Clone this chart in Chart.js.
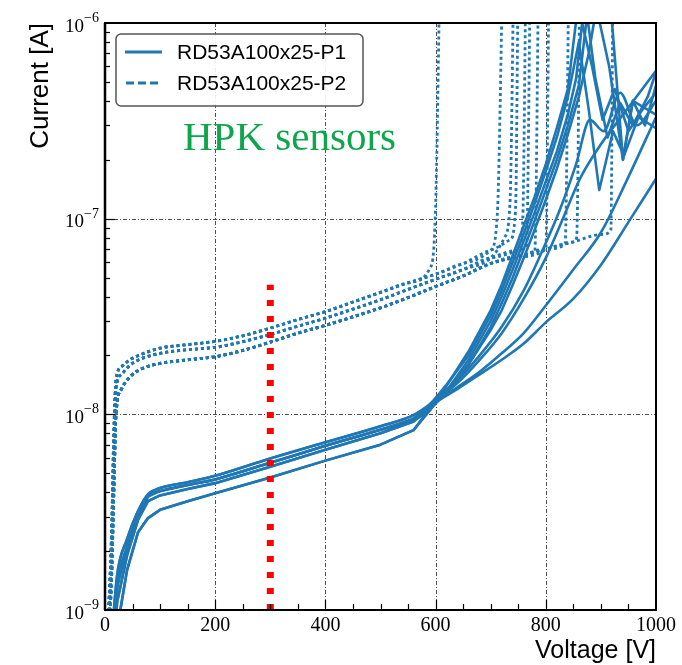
<!DOCTYPE html>
<html>
<head>
<meta charset="utf-8">
<script src="https://cdn.jsdelivr.net/npm/chart.js@4.4.0/dist/chart.umd.min.js"></script>
<style>
  html, body { margin: 0; padding: 0; background: #fff; }
  #wrap { width: 682px; height: 665px; }
</style>
</head>
<body>
<div id="wrap"><canvas id="ivChart" width="682" height="665"></canvas></div>
<script>
// IV curves, RD53A 100x25 sensors (HPK)

const xTicks = [0, 200, 400, 600, 800, 1000];
const yTicks = [1e-9, 1e-8, 1e-7, 1e-6];
const yTickExp = ['\u22129', '\u22128', '\u22127', '\u22126'];
const legendLabels = ['RD53A100x25-P1', 'RD53A100x25-P2'];

// P1 (solid) - shared low voltage part, four bands
const p1Volts = [10, 22, 40, 60, 78, 100, 150, 200, 300, 400, 500, 560];
const p1BandA = [6e-10, 1.5e-9, 2.3e-9, 3.2e-9, 3.9e-9, 4.2e-9, 4.5e-9, 4.85e-9, 5.95e-9, 7.2e-9, 8.7e-9, 9.9e-9];
const p1BandB = [5e-10, 1.3e-9, 2.1e-9, 3.05e-9, 3.8e-9, 4.05e-9, 4.35e-9, 4.65e-9, 5.65e-9, 6.9e-9, 8.35e-9, 9.5e-9];
const p1BandC = [4e-10, 1.1e-9, 1.9e-9, 2.9e-9, 3.6e-9, 3.85e-9, 4.15e-9, 4.45e-9, 5.4e-9, 6.6e-9, 8.0e-9, 9.2e-9];
const p1BandD = [3e-10, 8e-10, 1.6e-9, 2.5e-9, 2.95e-9, 3.25e-9, 3.6e-9, 3.95e-9, 4.75e-9, 5.8e-9, 7.0e-9, 8.3e-9];

// which band each P1 sensor follows, its high voltage tail [V, A], and whether it is a smooth curve
const p1CurveBands = ['D', 'C', 'B', 'C', 'D', 'A', 'B', 'A', 'B'];
const p1CurveSmooth = [false, false, false, false, false, true, true, true, true];
const p1Tails = [
  [[590, 1.08e-8], [620, 1.32e-8], [660, 1.9e-8], [700, 3.0e-8], [720, 4.0e-8], [740, 5.5e-8], [760, 7.7e-8], [780, 1.08e-7], [800, 1.55e-7], [820, 2.2e-7], [840, 3.4e-7], [855, 5.2e-7], [866, 1e-6], [884, 6e-7], [903, 3.2e-7], [925, 4.6e-7], [950, 2.8e-7], [975, 3.6e-7], [1000, 4.4e-7]],
  [[590, 1.12e-8], [620, 1.42e-8], [660, 2.0e-8], [700, 3.2e-8], [720, 4.3e-8], [740, 6.0e-8], [760, 8.4e-8], [780, 1.2e-7], [800, 1.75e-7], [820, 2.6e-7], [840, 4.2e-7], [860, 8e-7], [878, 3.6e-7], [897, 1.4e-7], [922, 2.8e-7], [942, 2.1e-7], [968, 3.3e-7], [1000, 2.9e-7]],
  [[590, 1.1e-8], [620, 1.3e-8], [660, 1.8e-8], [700, 2.8e-8], [720, 3.7e-8], [740, 5.0e-8], [760, 7.0e-8], [780, 9.8e-8], [800, 1.4e-7], [820, 2.0e-7], [840, 3.0e-7], [860, 4.8e-7], [875, 1.1e-6], [890, 5.2e-7], [912, 2.6e-7], [935, 3.9e-7], [958, 3.0e-7], [985, 4.2e-7], [1000, 5.6e-7]],
  [[590, 1.06e-8], [620, 1.3e-8], [660, 1.8e-8], [700, 2.7e-8], [720, 3.4e-8], [740, 4.6e-8], [760, 6.3e-8], [780, 8.8e-8], [800, 1.25e-7], [820, 1.8e-7], [840, 2.7e-7], [860, 4.2e-7], [878, 7e-7], [892, 1.2e-6], [915, 6e-7], [940, 2.0e-7], [958, 4.0e-7], [1000, 3.4e-7]],
  [[590, 1.05e-8], [620, 1.4e-8], [660, 2.1e-8], [700, 3.4e-8], [720, 4.6e-8], [740, 6.5e-8], [760, 9.2e-8], [780, 1.3e-7], [800, 1.9e-7], [820, 2.9e-7], [840, 4.6e-7], [858, 1.2e-6], [918, 1.2e-6], [940, 2.0e-7], [958, 4.0e-7], [980, 3.0e-7], [1000, 4.8e-7]],
  [[600, 1.18e-8], [640, 1.45e-8], [680, 1.9e-8], [720, 2.6e-8], [760, 3.9e-8], [800, 6.3e-8], [831, 1e-7], [862, 1.6e-7], [900, 2.4e-7], [950, 3.7e-7], [1000, 5.7e-7]],
  [[600, 1.2e-8], [640, 1.5e-8], [680, 2.0e-8], [720, 2.8e-8], [760, 4.3e-8], [790, 6.5e-8], [825, 1.1e-7], [855, 1.9e-7], [880, 3.2e-7], [905, 2.8e-7], [935, 4.4e-7], [965, 3.0e-7], [1000, 4.0e-7]],
  [[600, 1.17e-8], [640, 1.38e-8], [680, 1.65e-8], [720, 2.05e-8], [760, 2.6e-8], [800, 3.6e-8], [850, 5.5e-8], [900, 8.5e-8], [947, 1.57e-7], [1000, 3.3e-7]],
  [[600, 1.15e-8], [640, 1.35e-8], [680, 1.6e-8], [720, 1.9e-8], [760, 2.3e-8], [800, 2.95e-8], [850, 3.9e-8], [900, 5.8e-8], [950, 9.6e-8], [1000, 1.6e-7]]
];

// P2 (dotted) - plateau bands before breakdown
const p2Volts = [5, 12, 16, 20, 30, 45, 65, 100, 150, 200, 250, 300, 350, 400, 450, 500, 550, 600, 650, 700, 750, 800, 850, 900];
const p2BandTop = [8e-10, 2.5e-9, 8e-9, 1.5e-8, 1.75e-8, 1.9e-8, 2.02e-8, 2.18e-8, 2.27e-8, 2.36e-8, 2.52e-8, 2.76e-8, 3.05e-8, 3.35e-8, 3.75e-8, 4.2e-8, 4.7e-8, 5.2e-8, 5.9e-8, 6.9e-8, 7.6e-8, 8.2e-8, 8.8e-8, 9.4e-8];
const p2BandMid = [7e-10, 2e-9, 6.5e-9, 1.35e-8, 1.6e-8, 1.78e-8, 1.92e-8, 2.05e-8, 2.14e-8, 2.2e-8, 2.35e-8, 2.56e-8, 2.82e-8, 3.1e-8, 3.45e-8, 3.85e-8, 4.35e-8, 4.9e-8, 5.5e-8, 6.3e-8, 6.9e-8, 7.5e-8, 8.1e-8, 8.7e-8];
const p2BandBot = [6e-10, 1.5e-9, 4e-9, 1.0e-8, 1.35e-8, 1.55e-8, 1.7e-8, 1.82e-8, 1.9e-8, 1.97e-8, 2.12e-8, 2.34e-8, 2.6e-8, 2.85e-8, 3.15e-8, 3.5e-8, 3.95e-8, 4.5e-8, 5.1e-8, 5.9e-8, 6.4e-8, 7.0e-8, 7.6e-8, 8.3e-8];

const p2CurveBands = ['top', 'top', 'mid', 'top', 'mid', 'mid', 'bot', 'bot', 'bot', 'bot', 'bot'];
const p2Tails = [
  [[590, 5.6e-8], [600, 1.15e-7], [608, 2e-6]],
  [[700, 6.9e-8], [712, 1.05e-7], [722, 2e-6]],
  [[700, 6.3e-8], [725, 8e-8], [735, 1.2e-7], [742, 2e-6]],
  [[700, 6.9e-8], [735, 7.8e-8], [745, 1.1e-7], [750, 2e-6]],
  [[750, 6.9e-8], [758, 9.5e-8], [764, 2e-6]],
  [[750, 6.9e-8], [765, 7.3e-8], [772, 2e-6]],
  [[750, 6.4e-8], [780, 6.8e-8], [787, 2e-6]],
  [[800, 7.0e-8], [806, 2e-6]],
  [[800, 7.0e-8], [835, 7.4e-8], [842, 2e-6]],
  [[850, 7.6e-8], [856, 8.0e-8], [862, 2e-6]],
  [[900, 8.3e-8], [918, 8.7e-8], [922, 2e-6]]
];

// red marker at 300 V
const markerVolts = [300, 300];
const markerCurrent = [1e-9, 4.6e-8];

const BLUE = '#1f77b4';

function buildCurve(volts, band, tail) {
  const pts = [];
  volts.forEach((v, i) => {
    if (v < tail[0][0]) pts.push({ x: v, y: band[i] });
  });
  tail.forEach(([v, c]) => pts.push({ x: v, y: c }));
  return pts;
}

const p1BandMap = { A: p1BandA, B: p1BandB, C: p1BandC, D: p1BandD };
const p2BandMap = { top: p2BandTop, mid: p2BandMid, bot: p2BandBot };

const datasets = [];
datasets.push({
  label: 'marker',
  data: markerVolts.map((v, i) => ({ x: v, y: markerCurrent[i] })),
  borderColor: '#ff0000',
  borderWidth: 7,
  borderDash: [6, 10],
  borderCapStyle: 'butt',
  pointRadius: 0,
  order: 0
});
p2Tails.forEach((tail, i) => {
  datasets.push({
    label: legendLabels[1],
    data: buildCurve(p2Volts, p2BandMap[p2CurveBands[i]], tail),
    borderColor: BLUE,
    borderWidth: 2.8,
    borderDash: [3, 3],
    borderCapStyle: 'butt',
    pointRadius: 0,
    cubicInterpolationMode: 'monotone',
    order: 2
  });
});
p1Tails.forEach((tail, i) => {
  const ds = {
    label: legendLabels[0],
    data: buildCurve(p1Volts, p1BandMap[p1CurveBands[i]], tail),
    borderColor: BLUE,
    borderWidth: 2.6,
    borderJoinStyle: 'round',
    pointRadius: 0,
    tension: 0,
    order: 1
  };
  if (p1CurveSmooth[i]) ds.cubicInterpolationMode = 'monotone';
  datasets.push(ds);
});

// axes, grid, labels and legend drawn by hand (matplotlib look)
const frame = {
  id: 'frame',
  beforeDatasetsDraw(chart) {
    const { ctx, chartArea: a, scales: { x, y } } = chart;
    ctx.save();
    ctx.strokeStyle = '#222';
    ctx.lineWidth = 0.8;
    ctx.setLineDash([4, 2, 1, 2]);
    xTicks.slice(1, -1).forEach(v => {
      const px = Math.round(x.getPixelForValue(v)) + 0.5;
      ctx.beginPath(); ctx.moveTo(px, a.top); ctx.lineTo(px, a.bottom); ctx.stroke();
    });
    yTicks.slice(1, -1).forEach(v => {
      const py = Math.round(y.getPixelForValue(v)) + 0.5;
      ctx.beginPath(); ctx.moveTo(a.left, py); ctx.lineTo(a.right, py); ctx.stroke();
    });
    ctx.restore();
  },
  afterDatasetsDraw(chart) {
    const { ctx, chartArea: a, scales: { x, y } } = chart;
    ctx.save();
    ctx.setLineDash([]);
    ctx.strokeStyle = '#000';

    // ticks (inward)
    ctx.lineWidth = 1.2;
    for (let v = 50; v < 1000; v += 50) {
      const px = Math.round(x.getPixelForValue(v)) + 0.5;
      const len = v % 200 === 0 ? 10 : 6;
      ctx.beginPath(); ctx.moveTo(px, a.bottom); ctx.lineTo(px, a.bottom - len); ctx.stroke();
    }
    for (let d = -9; d <= -7; d++) {
      for (let m = 1; m <= 9; m++) {
        if (m === 1 && d === -9) continue;
        const py = Math.round(y.getPixelForValue(m * Math.pow(10, d))) + 0.5;
        const len = m === 1 ? 10 : 5;
        ctx.beginPath(); ctx.moveTo(a.left, py); ctx.lineTo(a.left + len, py); ctx.stroke();
      }
    }

    // spines
    ctx.lineWidth = 2;
    ctx.strokeRect(a.left, a.top, a.right - a.left, a.bottom - a.top);
    ctx.lineWidth = 2.5;
    ctx.beginPath(); ctx.moveTo(a.left, a.top); ctx.lineTo(a.left, a.bottom); ctx.stroke();

    // tick labels
    ctx.fillStyle = '#000';
    ctx.font = '20px "Liberation Serif"';
    ctx.textAlign = 'center';
    ctx.textBaseline = 'alphabetic';
    xTicks.forEach(v => ctx.fillText(String(v), x.getPixelForValue(v), a.bottom + 21));

    yTicks.forEach((v, i) => {
      const py = y.getPixelForValue(v);
      ctx.textAlign = 'right';
      ctx.font = '14px "Liberation Serif"';
      const supW = ctx.measureText(yTickExp[i]).width;
      ctx.fillText(yTickExp[i], a.left - 6, py - 1);
      ctx.font = '19px "Liberation Serif"';
      ctx.fillText('10', a.left - 6 - supW, py + 8.5);
    });

    // axis titles
    ctx.font = '25px "Liberation Sans"';
    ctx.textAlign = 'right';
    ctx.fillText('Voltage [V]', a.right, 658);
    ctx.save();
    ctx.translate(48, a.top);
    ctx.rotate(-Math.PI / 2);
    ctx.font = '26px "Liberation Sans"';
    ctx.textAlign = 'right';
    ctx.fillText('Current [A]', 0, 0);
    ctx.restore();

    // annotation
    ctx.font = '41px "Liberation Serif"';
    ctx.textAlign = 'left';
    ctx.fillStyle = '#0ea64c';
    ctx.fillText('HPK sensors', 183, 150);

    // legend
    const lx = 116, ly = 34, lw = 247, lh = 72, r = 5;
    ctx.beginPath();
    ctx.moveTo(lx + r, ly);
    ctx.arcTo(lx + lw, ly, lx + lw, ly + lh, r);
    ctx.arcTo(lx + lw, ly + lh, lx, ly + lh, r);
    ctx.arcTo(lx, ly + lh, lx, ly, r);
    ctx.arcTo(lx, ly, lx + lw, ly, r);
    ctx.closePath();
    ctx.fillStyle = 'rgba(255,255,255,0.9)';
    ctx.fill();
    ctx.strokeStyle = '#555';
    ctx.lineWidth = 1.5;
    ctx.stroke();

    ctx.strokeStyle = BLUE;
    ctx.lineWidth = 3;
    ctx.beginPath(); ctx.moveTo(125, 52); ctx.lineTo(162, 52); ctx.stroke();
    ctx.setLineDash([8, 4]);
    ctx.beginPath(); ctx.moveTo(126, 83); ctx.lineTo(162, 83); ctx.stroke();
    ctx.setLineDash([]);

    ctx.fillStyle = '#000';
    ctx.font = '21px "Liberation Sans"';
    ctx.textAlign = 'left';
    ctx.textBaseline = 'middle';
    ctx.fillText(legendLabels[0], 177, 53);
    ctx.fillText(legendLabels[1], 177, 84);
    ctx.restore();
  }
};

new Chart(document.getElementById('ivChart'), {
  type: 'line',
  data: { datasets },
  options: {
    responsive: false,
    animation: false,
    devicePixelRatio: 1,
    layout: { padding: { left: 105, right: 26, top: 23, bottom: 55 } },
    elements: { line: { fill: false } },
    scales: {
      x: { type: 'linear', min: 0, max: 1000, display: false },
      y: { type: 'logarithmic', min: 1e-9, max: 1e-6, display: false }
    },
    plugins: {
      legend: { display: false },
      tooltip: { enabled: false }
    }
  },
  plugins: [frame]
});
</script>
</body>
</html>
